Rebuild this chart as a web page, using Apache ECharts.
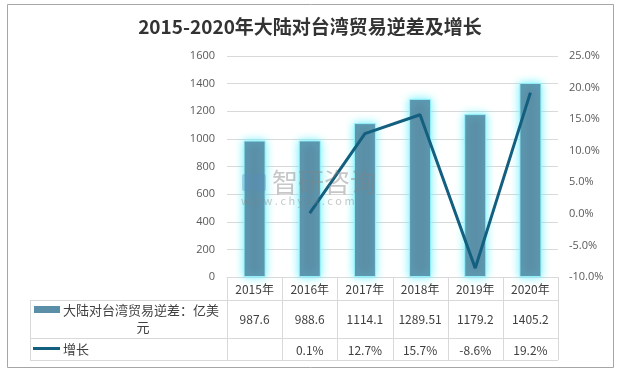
<!DOCTYPE html>
<html><head><meta charset="utf-8">
<script src="https://cdn.jsdelivr.net/npm/echarts@6/dist/echarts.min.js"></script>
<style>html,body{margin:0;padding:0;background:#fff}#c{width:620px;height:376px}</style>
</head><body><div id="c"></div>
<script>
var titleText = '2015-2020年大陆对台湾贸易逆差及增长';
var years = ['2015年','2016年','2017年','2018年','2019年','2020年'];
var deficit = [987.6, 988.6, 1114.1, 1289.51, 1179.2, 1405.2];
var growth = [null, 0.1, 12.7, 15.7, -8.6, 19.2];
var deficitName = '大陆对台湾贸易逆差：亿美元';
var growthName = '增长';

var GL = 227, GR = 62, GT = 56, GB = 99;
var W = 620, H = 376;
var chart = echarts.init(document.getElementById('c'), null, {renderer:'canvas'});
var txt = '#404040', gridC = '#d9d9d9';
var font = '"Noto Sans CJK SC", "Noto Sans", sans-serif';

chart.setOption({
  animation:false,
  textStyle:{fontFamily:font},
  title:{text:titleText, left:'center', top:12, textStyle:{fontSize:19, fontWeight:'bold', color:'#333', fontFamily:font}},
  grid:{left:GL, right:GR, top:GT, bottom:GB},
  xAxis:{type:'category', data:years,
    axisLine:{lineStyle:{color:gridC}}, axisTick:{show:false},
    axisLabel:{color:txt, fontSize:12, margin:6}},
  yAxis:[
    {type:'value', min:0, max:1600, interval:200,
     axisLine:{show:false}, axisTick:{show:false},
     splitLine:{lineStyle:{color:gridC}},
     axisLabel:{color:'#595959', fontSize:11, margin:12, fontFamily:'"Open Sans", sans-serif',
       formatter:function(v){return String(v);}}},
    {type:'value', min:-10, max:25, interval:5,
     axisLine:{show:false}, axisTick:{show:false}, splitLine:{show:false},
     axisLabel:{color:'#595959', fontSize:11, margin:11, fontFamily:'"Open Sans", sans-serif',
       formatter:function(v){return v.toFixed(1)+'%';}}}
  ],
  series:[
    {type:'bar', name:deficitName, data:deficit, barWidth:22, yAxisIndex:0,
     itemStyle:{color:'#5b8fa7', borderColor:'rgba(150,245,255,0.9)', borderWidth:1, shadowColor:'rgba(100,240,255,1)', shadowBlur:9}},
    {type:'line', name:growthName, data:growth, yAxisIndex:1, showSymbol:false, symbol:'none',
     connectNulls:false, lineStyle:{color:'#135f7f', width:3}, z:5}
  ]
});

// build the data table from the arrays
var plotW = W - GL - GR;
var cw = plotW / years.length;
var yAxisLine = H - GB;
var r1 = 300, r2 = 338, r3 = 360, tl = 30;
var g = [];
function line(x1,y1,x2,y2,c){g.push({type:'line',shape:{x1:x1,y1:y1,x2:x2,y2:y2},style:{stroke:c||gridC,lineWidth:1},silent:true});}
line(tl, r1+0.5, GL+plotW, r1+0.5);
line(tl, r2+0.5, GL+plotW, r2+0.5);
line(tl, r3+0.5, GL+plotW, r3+0.5);
line(tl+0.5, r1, tl+0.5, r3);
for (var i=0;i<=years.length;i++){
  var x = Math.round(GL + i*cw)+0.5;
  line(x, yAxisLine, x, r3);
}
for (var i=0;i<years.length;i++){
  var cx = chart.convertToPixel({xAxisIndex:0}, years[i]);
  g.push({type:'text', style:{text:String(deficit[i]), x:cx, y:(r1+r2)/2, align:'center', verticalAlign:'middle', fill:txt, font:'12px '+font}});
  if (growth[i]!==null) g.push({type:'text', style:{text:growth[i].toFixed(1)+'%', x:cx, y:(r2+r3)/2+1, align:'center', verticalAlign:'middle', fill:txt, font:'12px '+font}});
}
// legend keys in the table
g.push({type:'rect', shape:{x:34,y:306,width:26,height:7}, style:{fill:'#5b8fa7'}});
g.push({type:'text', style:{text:deficitName.slice(0,12), x:63, y:310, verticalAlign:'middle', fill:txt, font:'13px '+font}});
g.push({type:'text', style:{text:deficitName.slice(12), x:143, y:327, align:'center', verticalAlign:'middle', fill:txt, font:'13px '+font}});
g.push({type:'line', shape:{x1:33,y1:348.5,x2:60,y2:348.5}, style:{stroke:'#135f7f', lineWidth:3}});
g.push({type:'text', style:{text:growthName, x:63, y:349, verticalAlign:'middle', fill:txt, font:'13px '+font}});
// watermark (drawn above the marks)
g.push({type:'rect', z:100, shape:{x:242,y:174,width:10,height:17,r:2}, style:{fill:'rgba(90,140,190,0.35)'}});
g.push({type:'rect', z:100, shape:{x:254,y:174,width:12,height:17,r:2}, style:{fill:'rgba(90,140,190,0.35)'}});
g.push({type:'text', z:100, style:{text:'智研咨询', x:272, y:182, verticalAlign:'middle', fill:'rgba(130,130,130,0.45)', font:'26px '+font}});
g.push({type:'text', z:100, style:{text:'w w w . c h y x x . c o m', x:241, y:201, verticalAlign:'middle', fill:'rgba(130,130,130,0.45)', font:'11px '+font}});
// outer border
g.push({type:'rect', shape:{x:7.5,y:4.5,width:606,height:363}, style:{fill:'none', stroke:'#a6a6a6', lineWidth:1}, silent:true});
chart.setOption({graphic:g});
</script></body></html>
